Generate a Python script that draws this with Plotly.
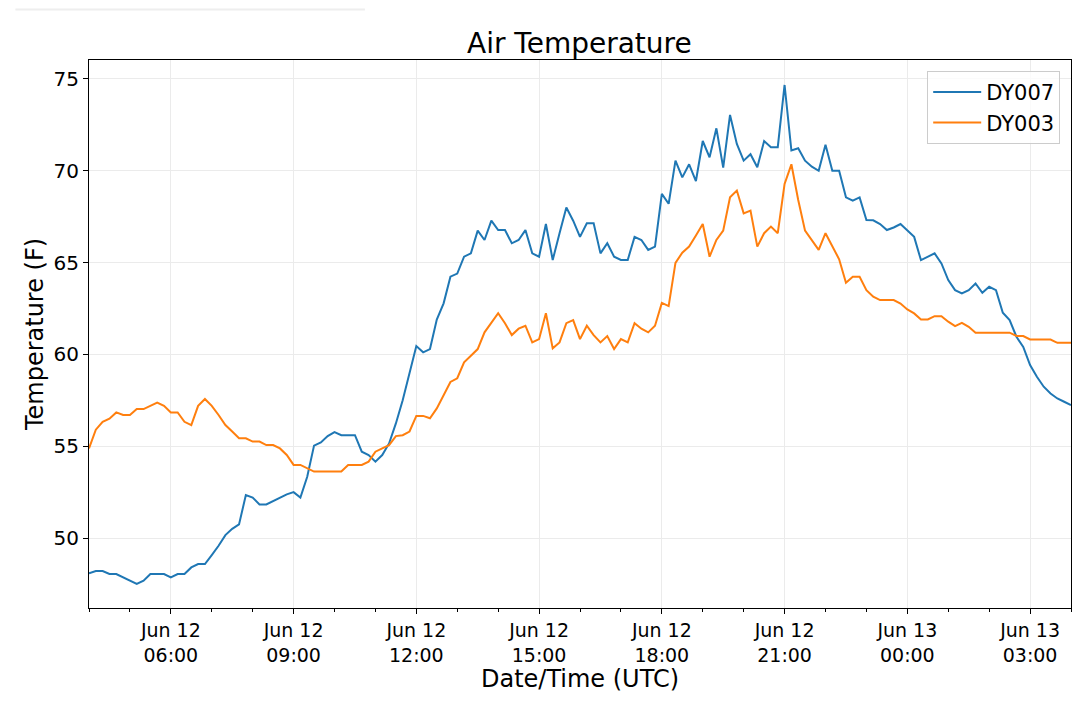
import pandas as pd
import plotly.graph_objects as go

# 10-minute readings, Jun 12 04:00 -> Jun 13 04:00 (UTC)
times = pd.date_range('2019-06-12 04:00', periods=145, freq='10min')

dy007 = [48.08, 48.2, 48.2, 48.04, 48.04, 47.86, 47.68, 47.5, 47.68, 48.04,
         48.04, 48.04, 47.86, 48.04, 48.04, 48.4, 48.58, 48.58, 49.07, 49.58,
         50.16, 50.5, 50.74, 52.34, 52.2, 51.83, 51.83, 52.0, 52.2, 52.38,
         52.5, 52.2, 53.34, 55.03, 55.2, 55.55, 55.77, 55.6, 55.6, 55.6,
         54.7, 54.52, 54.16, 54.52, 55.15, 56.24, 57.5, 59.0, 60.45, 60.11,
         60.29, 61.9, 62.78, 64.23, 64.4, 65.32, 65.5, 66.74, 66.23, 67.28,
         66.77, 66.77, 66.05, 66.23, 66.77, 65.5, 65.32, 67.1, 65.14, 66.6,
         68.0, 67.28, 66.4, 67.14, 67.14, 65.5, 66.05, 65.32, 65.14, 65.14,
         66.4, 66.23, 65.69, 65.87, 68.74, 68.2, 70.55, 69.64, 70.35, 69.44,
         71.62, 70.73, 72.31, 70.17, 73.04, 71.46, 70.55, 70.9, 70.19, 71.62,
         71.28, 71.28, 74.67, 71.1, 71.22, 70.55, 70.22, 70.0, 71.41, 70.0,
         70.0, 68.55, 68.37, 68.55, 67.31, 67.3, 67.1, 66.77, 66.91, 67.1,
         66.77, 66.4, 65.13, 65.32, 65.5, 64.95, 64.05, 63.5, 63.32, 63.5,
         63.86, 63.35, 63.68, 63.5, 62.27, 61.87, 60.96, 60.41, 59.42, 58.78,
         58.24, 57.87, 57.6, 57.42, 57.24]

dy003 = [54.88, 55.9, 56.33, 56.5, 56.84, 56.7, 56.7, 57.02, 57.02, 57.2,
         57.38, 57.2, 56.84, 56.84, 56.33, 56.15, 57.2, 57.57, 57.2, 56.7,
         56.15, 55.8, 55.43, 55.43, 55.25, 55.25, 55.06, 55.06, 54.88, 54.52,
         53.98, 53.98, 53.8, 53.62, 53.62, 53.62, 53.62, 53.62, 53.98, 53.98,
         53.98, 54.16, 54.7, 54.88, 55.06, 55.55, 55.6, 55.8, 56.65, 56.65,
         56.52, 57.06, 57.8, 58.5, 58.7, 59.57, 59.93, 60.29, 61.2, 61.7,
         62.24, 61.7, 61.05, 61.4, 61.56, 60.65, 60.83, 62.24, 60.33, 60.65,
         61.7, 61.87, 60.83, 61.56, 61.05, 60.65, 61.0, 60.29, 60.83, 60.65,
         61.7, 61.4, 61.2, 61.56, 62.8, 62.63, 64.98, 65.54, 65.87, 66.47,
         67.1, 65.32, 66.23, 66.74, 68.55, 68.92, 67.68, 67.83, 65.87, 66.6,
         66.96, 66.6, 69.28, 70.35, 68.41, 66.74, 66.23, 65.69, 66.6, 65.87,
         65.18, 63.9, 64.23, 64.23, 63.5, 63.14, 62.96, 62.96, 62.96, 62.77,
         62.45, 62.23, 61.9, 61.9, 62.08, 62.08, 61.78, 61.54, 61.72, 61.5,
         61.18, 61.18, 61.18, 61.18, 61.18, 61.18, 61.0, 61.0, 60.81, 60.81,
         60.81, 60.81, 60.63, 60.63, 60.63]

font = 'DejaVu Sans'

fig = go.Figure()
fig.add_trace(go.Scatter(x=times, y=dy007, mode='lines', name='DY007',
                         line=dict(color='#1f77b4', width=2)))
fig.add_trace(go.Scatter(x=times, y=dy003, mode='lines', name='DY003',
                         line=dict(color='#ff7f0e', width=2)))

# page body has an 8px margin, so the figure is sized to fit inside it
fig.update_layout(
    width=1064, height=685,
    paper_bgcolor='white', plot_bgcolor='white',
    margin=dict(l=81, r=1, t=52, b=85),
    font=dict(family=font, size=20, color='black'),
    title=dict(text='Air Temperature', x=0.537, xanchor='center',
               y=0.949, yanchor='middle', font=dict(size=28)),
    legend=dict(x=0.989, y=0.98, xanchor='right', yanchor='top',
                bgcolor='rgba(255,255,255,0.8)', bordercolor='#cccccc',
                borderwidth=1, font=dict(size=21), itemwidth=48),
    showlegend=True,
)

fig.update_xaxes(
    range=[times[0], times[-1]],
    tick0='2019-06-12 06:00', dtick=3 * 3600 * 1000,
    tickformat='%b %d<br>%H:%M',
    tickfont=dict(size=19),
    ticks='outside', ticklen=5, tickcolor='black',
    minor=dict(dtick=3600 * 1000, ticks='outside', ticklen=3,
               tickcolor='black', showgrid=False),
    showgrid=True, gridcolor='#ebebeb', gridwidth=1,
    showline=True, linecolor='black', linewidth=1, mirror=True,
    automargin=False,
    title=dict(text='Date/Time (UTC)', font=dict(size=24), standoff=6),
)
fig.update_yaxes(
    range=[46.19, 76.03], dtick=5,
    ticks='outside', ticklen=5, tickcolor='black',
    showgrid=True, gridcolor='#ebebeb', gridwidth=1,
    showline=True, linecolor='black', linewidth=1, mirror=True,
    zeroline=False, automargin=False,
    title=dict(text='Temperature (F)', font=dict(size=24), standoff=3),
)

# faint strip at the very top left of the image
fig.add_shape(type='line', xref='paper', yref='paper',
              x0=-0.075, x1=0.281, y0=1.092, y1=1.092,
              line=dict(color='#eeeeee', width=2))

fig.write_html('out.html')
